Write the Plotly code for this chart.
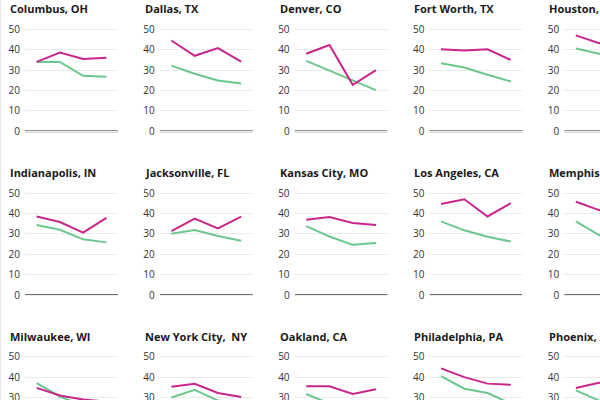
import plotly.graph_objects as go

# ---------------- data ----------------
cities = [
    "Columbus, OH", "Dallas, TX", "Denver, CO", "Fort Worth, TX", "Houston, TX",
    "Indianapolis, IN", "Jacksonville, FL", "Kansas City, MO", "Los Angeles, CA", "Memphis, TN",
    "Milwaukee, WI", "New York City,  NY", "Oakland, CA", "Philadelphia, PA", "Phoenix, AZ",
]
periods = [0, 1, 2, 3]
y_ticks = [0, 10, 20, 30, 40, 50]

magenta_series = [
    [34.0, 38.6, 35.5, 36.0],   # Columbus
    [44.5, 37.0, 40.8, 34.2],   # Dallas
    [38.0, 42.3, 22.8, 30.0],   # Denver
    [40.2, 39.6, 40.2, 35.0],   # Fort Worth
    [47.0, 43.2, 44.0, 40.0],   # Houston
    [38.5, 35.8, 30.6, 37.8],   # Indianapolis
    [31.3, 37.5, 32.6, 38.4],   # Jacksonville
    [36.9, 38.2, 35.3, 34.3],   # Kansas City
    [44.6, 46.9, 38.5, 45.0],   # Los Angeles
    [45.7, 41.6, 40.0, 38.0],   # Memphis
    [34.7, 31.0, 29.0, 28.0],   # Milwaukee
    [35.3, 36.7, 32.2, 30.3],   # New York City
    [35.5, 35.5, 31.7, 34.0],   # Oakland
    [44.3, 40.0, 36.8, 36.2],   # Philadelphia
    [34.7, 37.2, 38.0, 36.0],   # Phoenix
]
green_series = [
    [34.0, 34.0, 27.2, 26.7],   # Columbus
    [32.2, 28.2, 24.9, 23.4],   # Dallas
    [34.5, 29.8, 25.0, 20.2],   # Denver
    [33.4, 31.3, 27.7, 24.4],   # Fort Worth
    [40.6, 38.0, 33.0, 30.0],   # Houston
    [34.3, 32.0, 27.3, 25.8],   # Indianapolis
    [30.0, 31.8, 28.9, 26.6],   # Jacksonville
    [33.8, 28.7, 24.6, 25.5],   # Kansas City
    [36.1, 31.7, 28.6, 26.2],   # Los Angeles
    [36.1, 29.4, 27.0, 26.0],   # Memphis
    [37.0, 30.5, 26.0, 25.0],   # Milwaukee
    [30.0, 33.8, 28.5, 27.0],   # New York City
    [31.7, 27.0, 25.0, 24.0],   # Oakland
    [40.5, 34.3, 32.2, 27.0],   # Philadelphia
    [33.5, 28.5, 27.0, 25.0],   # Phoenix
]

# ---------------- style / layout constants ----------------
W, H = 600, 400
MAGENTA = "#c8268a"
GREEN = "#6cc78e"
COL_STEP = 134.8
ROW_STEP = 163.7
PLOT_X0 = 25.0
PLOT_W = 93.0
X_LO, X_HI = -0.5, 3.5
PX_PER_X = PLOT_W / (X_HI - X_LO)
ZERO_Y0 = 131.3
PX_PER_Y = 2.04
Y_LO, Y_HI = -1.0, 51.0
FONT = "Open Sans"

fig = go.Figure()
layout = dict(
    width=W, height=H,
    margin=dict(l=0, r=0, t=0, b=0, pad=0, autoexpand=False),
    paper_bgcolor="white", plot_bgcolor="white",
    showlegend=False,
    font=dict(family=FONT, color="#333333"),
    annotations=[], shapes=[],
)

for i, city in enumerate(cities):
    r, c = divmod(i, 5)
    n = i + 1
    xa = "x" if n == 1 else f"x{n}"
    ya = "y" if n == 1 else f"y{n}"

    # horizontal extent (clipped at page edge)
    x_left = PLOT_X0 + c * COL_STEP
    x_right = x_left + PLOT_W
    x_hi = X_HI
    if x_right > W:
        x_hi = X_LO + (W - x_left) / PX_PER_X
        x_right = W
    # vertical extent (clipped at page edge)
    zero_pix = ZERO_Y0 + r * ROW_STEP
    y_top = zero_pix - Y_HI * PX_PER_Y
    y_bot = zero_pix - Y_LO * PX_PER_Y
    y_lo = Y_LO
    if y_bot > H:
        y_lo = (zero_pix - H) / PX_PER_Y
        y_bot = H

    layout["xaxis" if n == 1 else f"xaxis{n}"] = dict(
        domain=[x_left / W, x_right / W], range=[X_LO, x_hi],
        anchor=ya, showgrid=False, zeroline=False, showticklabels=False,
        showline=False, ticks="", fixedrange=True, automargin=False,
    )
    layout["yaxis" if n == 1 else f"yaxis{n}"] = dict(
        domain=[1 - y_bot / H, 1 - y_top / H], range=[y_lo, Y_HI],
        anchor=xa, tickvals=y_ticks, showgrid=True, gridcolor="#ebebeb",
        gridwidth=1, zeroline=False, showline=False, ticks="",
        ticklabelstandoff=4, automargin=False, ticklabeloverflow="allow",
        tickfont=dict(family=FONT, size=10, color="#333333"), fixedrange=True,
    )

    fig.add_trace(go.Scatter(x=periods, y=green_series[i], mode="lines",
                             line=dict(color=GREEN, width=2),
                             xaxis=xa, yaxis=ya, name="Series B", hoverinfo="skip"))
    fig.add_trace(go.Scatter(x=periods, y=magenta_series[i], mode="lines",
                             line=dict(color=MAGENTA, width=2),
                             xaxis=xa, yaxis=ya, name="Series A", hoverinfo="skip"))

    # baseline at 0
    layout["shapes"].append(dict(
        type="line", xref=xa, yref=ya, x0=X_LO, x1=X_HI, y0=0, y1=0,
        line=dict(color="#707070", width=2), layer="below",
    ))
    # panel title
    layout["annotations"].append(dict(
        text=f"<b>{city}</b>", xref="paper", yref="paper",
        x=(8 + c * COL_STEP) / W, y=1 - (9 + r * ROW_STEP) / H,
        xanchor="left", yanchor="middle", showarrow=False,
        font=dict(family=FONT, size=11, color="#1a1a1a"),
    ))

# faint page border on the left
layout["shapes"].append(dict(
    type="line", xref="paper", yref="paper", x0=0.001, x1=0.001, y0=0, y1=1,
    line=dict(color="#e8e8e8", width=1),
))

fig.update_layout(**layout)
fig.write_html(
    "out.html",
    config={"displayModeBar": False},
    post_script="document.body.style.margin='0';document.body.style.overflow='hidden';",
)
